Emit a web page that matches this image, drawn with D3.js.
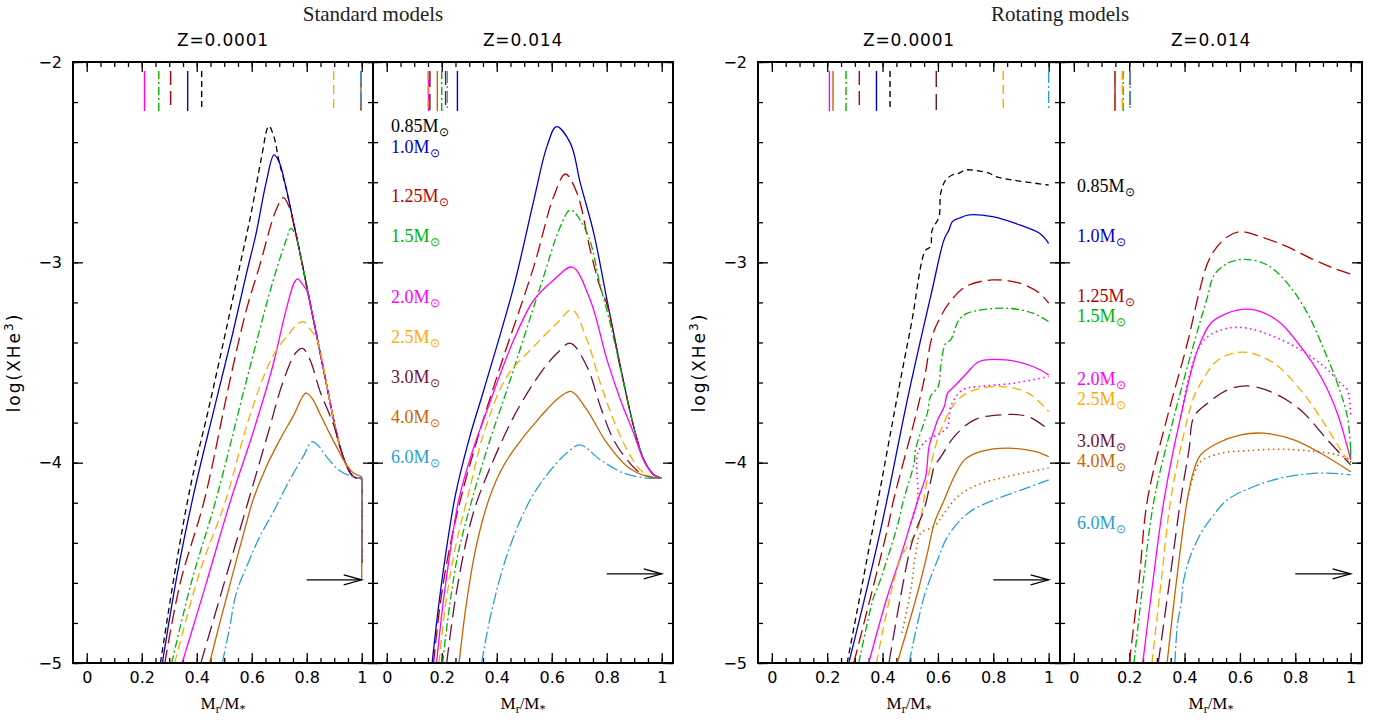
<!DOCTYPE html>
<html>
<head>
<meta charset="utf-8">
<script src="https://cdn.jsdelivr.net/npm/d3@7"></script>
<style>
  body { margin: 0; background: #fff; }
  svg { display: block; }
</style>
</head>
<body>
<script>
// masses and their line styles
const masses = ["0.85", "1.0", "1.25", "1.5", "2.0", "2.5", "3.0", "4.0", "6.0"];
const colors = ["#000000", "#0000c8", "#b40000", "#00b400", "#ff00ff", "#ffaa00", "#6e0f3c", "#c86400", "#2aa0d2"];
const dashes = ["6,4", null, "14,6", "8,3,2,3", null, "9,5", "16,7", null, "12,3,2,3"];

const xMajor = [0, 0.2, 0.4, 0.6, 0.8, 1];
const yMajor = [-2, -3, -4, -5];

// standard models, Z=0.0001  [Mr/M*, log XHe3]
const stdLowZ = [
  [[0.268,-5],[0.32,-4.55],[0.38,-4.1],[0.44,-3.75],[0.50,-3.38],[0.55,-3.06],[0.60,-2.74],[0.635,-2.48],[0.662,-2.32],[0.68,-2.37],[0.70,-2.50],[0.725,-2.63],[0.75,-2.79],[0.775,-2.95],[0.80,-3.12],[0.825,-3.29],[0.85,-3.46],[0.875,-3.63],[0.90,-3.80],[0.925,-3.94],[0.95,-4.03],[0.97,-4.07],[1.0,-4.08],[1.0,-4.5]],
  [[0.275,-5],[0.33,-4.55],[0.39,-4.15],[0.46,-3.75],[0.531,-3.354],[0.58,-3.06],[0.616,-2.855],[0.652,-2.605],[0.681,-2.464],[0.70,-2.50],[0.725,-2.63],[0.75,-2.79],[0.775,-2.95],[0.80,-3.12],[0.825,-3.29],[0.85,-3.46],[0.875,-3.63],[0.90,-3.80],[0.925,-3.94],[0.95,-4.03],[0.97,-4.07],[1.0,-4.08],[1.0,-4.5]],
  [[0.284,-5],[0.34,-4.6],[0.428,-4.185],[0.519,-3.60],[0.58,-3.24],[0.628,-3.02],[0.688,-2.74],[0.715,-2.677],[0.735,-2.72],[0.75,-2.79],[0.775,-2.95],[0.80,-3.12],[0.825,-3.29],[0.85,-3.46],[0.875,-3.63],[0.90,-3.80],[0.925,-3.94],[0.95,-4.03],[0.97,-4.07],[1.0,-4.08],[1.0,-4.5]],
  [[0.309,-5],[0.38,-4.6],[0.470,-4.185],[0.579,-3.60],[0.676,-3.10],[0.725,-2.89],[0.743,-2.83],[0.76,-2.87],[0.775,-2.95],[0.80,-3.12],[0.825,-3.29],[0.85,-3.46],[0.875,-3.63],[0.90,-3.80],[0.925,-3.94],[0.95,-4.03],[0.97,-4.07],[1.0,-4.08],[1.0,-4.5]],
  [[0.347,-5],[0.435,-4.6],[0.524,-4.185],[0.604,-3.853],[0.676,-3.52],[0.725,-3.237],[0.755,-3.10],[0.767,-3.083],[0.785,-3.11],[0.80,-3.14],[0.825,-3.29],[0.85,-3.46],[0.875,-3.63],[0.90,-3.80],[0.925,-3.94],[0.95,-4.03],[0.97,-4.07],[1.0,-4.08],[1.0,-4.5]],
  [[0.32,-5],[0.41,-4.55],[0.506,-4.185],[0.592,-3.77],[0.676,-3.47],[0.737,-3.354],[0.765,-3.31],[0.788,-3.296],[0.81,-3.33],[0.835,-3.38],[0.855,-3.48],[0.875,-3.63],[0.90,-3.80],[0.925,-3.94],[0.95,-4.03],[0.97,-4.07],[1.0,-4.08],[1.0,-4.5]],
  [[0.415,-5],[0.50,-4.6],[0.589,-4.185],[0.66,-3.85],[0.713,-3.60],[0.761,-3.45],[0.785,-3.43],[0.81,-3.48],[0.85,-3.65],[0.88,-3.75],[0.90,-3.82],[0.925,-3.94],[0.95,-4.03],[0.97,-4.07],[1.0,-4.08],[1.0,-4.5]],
  [[0.447,-5],[0.484,-4.80],[0.532,-4.55],[0.581,-4.30],[0.605,-4.185],[0.653,-4.02],[0.702,-3.886],[0.75,-3.77],[0.797,-3.653],[0.82,-3.68],[0.847,-3.753],[0.878,-3.84],[0.908,-3.92],[0.94,-4.0],[0.969,-4.05],[1.0,-4.07],[1.0,-4.58]],
  [[0.493,-5],[0.52,-4.82],[0.544,-4.65],[0.581,-4.52],[0.629,-4.37],[0.677,-4.25],[0.738,-4.086],[0.787,-3.97],[0.82,-3.895],[0.845,-3.92],[0.872,-3.97],[0.92,-4.04],[0.969,-4.07],[1.0,-4.075],[1.0,-4.48]]
];

// standard models, Z=0.014
const stdHighZ = [
  null,
  [[0.165,-5],[0.19,-4.7],[0.215,-4.45],[0.25,-4.16],[0.30,-3.88],[0.353,-3.637],[0.462,-3.12],[0.535,-2.689],[0.583,-2.42],[0.617,-2.323],[0.668,-2.406],[0.704,-2.605],[0.753,-2.855],[0.801,-3.188],[0.85,-3.52],[0.898,-3.82],[0.935,-3.986],[0.971,-4.06],[1.0,-4.077]],
  [[0.17,-5],[0.195,-4.7],[0.225,-4.45],[0.268,-4.185],[0.33,-3.88],[0.413,-3.52],[0.535,-3.02],[0.607,-2.672],[0.65,-2.559],[0.692,-2.655],[0.74,-2.938],[0.775,-3.12],[0.801,-3.21],[0.85,-3.53],[0.898,-3.82],[0.935,-3.986],[0.971,-4.06],[1.0,-4.077]],
  [[0.203,-5],[0.23,-4.7],[0.26,-4.45],[0.31,-4.185],[0.37,-3.91],[0.437,-3.637],[0.559,-3.12],[0.632,-2.82],[0.668,-2.739],[0.729,-2.855],[0.777,-3.12],[0.81,-3.29],[0.85,-3.53],[0.898,-3.82],[0.935,-3.986],[0.971,-4.06],[1.0,-4.077]],
  [[0.181,-5],[0.205,-4.7],[0.23,-4.45],[0.262,-4.185],[0.31,-3.95],[0.365,-3.737],[0.462,-3.387],[0.535,-3.188],[0.607,-3.088],[0.674,-3.024],[0.74,-3.188],[0.801,-3.487],[0.85,-3.687],[0.898,-3.853],[0.935,-3.99],[0.971,-4.06],[1.0,-4.077]],
  [[0.19,-5],[0.215,-4.7],[0.25,-4.42],[0.30,-4.14],[0.353,-3.853],[0.437,-3.57],[0.535,-3.42],[0.619,-3.304],[0.674,-3.237],[0.728,-3.387],[0.777,-3.604],[0.825,-3.787],[0.874,-3.936],[0.922,-4.036],[0.96,-4.07],[1.0,-4.077]],
  [[0.218,-5],[0.245,-4.72],[0.28,-4.45],[0.315,-4.25],[0.353,-4.102],[0.462,-3.77],[0.559,-3.553],[0.619,-3.454],[0.668,-3.404],[0.728,-3.52],[0.777,-3.72],[0.825,-3.886],[0.874,-3.986],[0.922,-4.052],[0.96,-4.072],[1.0,-4.077]],
  [[0.263,-5],[0.29,-4.7],[0.325,-4.42],[0.371,-4.185],[0.415,-4.04],[0.462,-3.936],[0.559,-3.77],[0.632,-3.67],[0.672,-3.645],[0.728,-3.737],[0.801,-3.903],[0.874,-4.019],[0.947,-4.069],[1.0,-4.077]],
  [[0.345,-5],[0.38,-4.75],[0.44,-4.45],[0.522,-4.185],[0.607,-4.019],[0.668,-3.936],[0.704,-3.911],[0.777,-3.986],[0.862,-4.052],[0.947,-4.077],[1.0,-4.077]]
];

// rotating models, Z=0.0001
const rotLowZ = [
  [[0.272,-5],[0.37,-4.29],[0.456,-3.65],[0.505,-3.30],[0.555,-2.94],[0.573,-2.922],[0.579,-2.84],[0.604,-2.772],[0.61,-2.655],[0.628,-2.589],[0.652,-2.564],[0.676,-2.555],[0.70,-2.539],[0.737,-2.542],[0.785,-2.555],[0.81,-2.572],[0.87,-2.589],[1.0,-2.614]],
  [[0.278,-5],[0.393,-4.335],[0.495,-3.65],[0.579,-3.138],[0.622,-2.888],[0.64,-2.838],[0.652,-2.797],[0.676,-2.78],[0.713,-2.763],[0.797,-2.772],[0.895,-2.813],[0.967,-2.855],[1.0,-2.905]],
  [[0.296,-5],[0.417,-4.335],[0.44,-4.185],[0.519,-3.77],[0.55,-3.587],[0.579,-3.371],[0.604,-3.287],[0.64,-3.204],[0.70,-3.121],[0.797,-3.088],[0.895,-3.104],[0.967,-3.154],[1.0,-3.204]],
  [[0.314,-5],[0.368,-4.67],[0.383,-4.62],[0.453,-4.318],[0.476,-4.185],[0.514,-4.003],[0.519,-3.936],[0.549,-3.803],[0.562,-3.753],[0.573,-3.67],[0.601,-3.62],[0.61,-3.52],[0.628,-3.404],[0.646,-3.387],[0.676,-3.287],[0.707,-3.254],[0.846,-3.229],[0.943,-3.254],[1.0,-3.296]],
  [[0.35,-5],[0.417,-4.669],[0.465,-4.469],[0.502,-4.302],[0.532,-4.168],[0.556,-4.07],[0.568,-3.92],[0.587,-3.836],[0.599,-3.786],[0.623,-3.72],[0.635,-3.653],[0.659,-3.62],[0.70,-3.56],[0.749,-3.495],[0.846,-3.487],[0.943,-3.52],[1.0,-3.562]],
  [[0.378,-5],[0.465,-4.48],[0.526,-4.335],[0.562,-4.086],[0.611,-3.836],[0.672,-3.686],[0.732,-3.637],[0.829,-3.62],[0.926,-3.653],[1.0,-3.745]],
  [[0.423,-5],[0.465,-4.669],[0.502,-4.419],[0.526,-4.318],[0.55,-4.235],[0.575,-4.086],[0.587,-4.019],[0.611,-3.97],[0.659,-3.87],[0.732,-3.786],[0.829,-3.761],[0.926,-3.77],[1.0,-3.836]],
  [[0.453,-5],[0.526,-4.652],[0.562,-4.452],[0.587,-4.302],[0.623,-4.185],[0.659,-4.069],[0.696,-3.986],[0.756,-3.944],[0.853,-3.927],[0.95,-3.944],[1.0,-3.97]],
  [[0.496,-5],[0.55,-4.669],[0.599,-4.485],[0.635,-4.369],[0.708,-4.252],[0.805,-4.185],[0.902,-4.136],[1.0,-4.086]]
];
const rotLowZDotMass = ["2.0", "4.0"];
const rotLowZDot = [
  [[0.502,-4.302],[0.526,-4.19],[0.528,-3.95],[0.562,-3.886],[0.60,-3.86],[0.635,-3.82],[0.646,-3.72],[0.688,-3.637],[0.749,-3.62],[0.87,-3.604],[1.0,-3.57]],
  [[0.47,-4.85],[0.502,-4.635],[0.52,-4.452],[0.538,-4.352],[0.587,-4.318],[0.623,-4.252],[0.672,-4.168],[0.744,-4.11],[0.853,-4.069],[1.0,-4.027]]
];

// rotating models, Z=0.014
const rotHighZ = [
  null,
  null,
  [[0.20,-5],[0.235,-4.6],[0.266,-4.185],[0.338,-3.77],[0.41,-3.404],[0.452,-3.154],[0.483,-3.005],[0.513,-2.93],[0.555,-2.872],[0.603,-2.847],[0.675,-2.872],[0.771,-2.922],[0.868,-2.988],[0.94,-3.03],[1.0,-3.058]],
  [[0.217,-5],[0.25,-4.6],[0.29,-4.185],[0.362,-3.77],[0.434,-3.404],[0.483,-3.171],[0.507,-3.063],[0.555,-3.005],[0.615,-2.985],[0.699,-3.013],[0.771,-3.104],[0.844,-3.254],[0.904,-3.437],[0.952,-3.604],[0.988,-3.77],[1.0,-3.936],[1.0,-4.0]],
  [[0.249,-5],[0.285,-4.6],[0.326,-4.185],[0.386,-3.77],[0.447,-3.437],[0.495,-3.304],[0.555,-3.254],[0.615,-3.234],[0.675,-3.246],[0.747,-3.304],[0.819,-3.42],[0.892,-3.57],[0.952,-3.753],[1.0,-3.986]],
  [[0.282,-5],[0.315,-4.6],[0.35,-4.185],[0.398,-3.853],[0.434,-3.67],[0.458,-3.604],[0.507,-3.504],[0.555,-3.462],[0.627,-3.45],[0.723,-3.504],[0.819,-3.637],[0.904,-3.803],[0.964,-3.936],[1.0,-4.011]],
  [[0.305,-5],[0.345,-4.6],[0.386,-4.185],[0.416,-3.936],[0.434,-3.77],[0.483,-3.704],[0.555,-3.637],[0.627,-3.617],[0.723,-3.653],[0.819,-3.737],[0.916,-3.886],[1.0,-4.011]],
  [[0.337,-5],[0.37,-4.6],[0.41,-4.185],[0.434,-4.036],[0.458,-3.961],[0.519,-3.903],[0.603,-3.861],[0.687,-3.853],[0.795,-3.886],[0.892,-3.953],[1.0,-4.045]],
  [[0.365,-5],[0.375,-4.8],[0.388,-4.7],[0.395,-4.6],[0.42,-4.47],[0.46,-4.35],[0.50,-4.27],[0.555,-4.185],[0.651,-4.119],[0.747,-4.077],[0.844,-4.056],[0.916,-4.052],[1.0,-4.061]]
];
const rotHighZDotMass = ["2.0", "4.0"];
const rotHighZDot = [
  [[0.386,-3.77],[0.42,-3.55],[0.447,-3.44],[0.483,-3.371],[0.555,-3.329],[0.627,-3.329],[0.723,-3.371],[0.819,-3.437],[0.904,-3.52],[0.964,-3.604],[0.988,-3.637],[1.0,-3.77]],
  [[0.41,-4.185],[0.434,-4.06],[0.458,-3.995],[0.531,-3.953],[0.627,-3.94],[0.747,-3.933],[0.868,-3.944],[0.952,-3.961],[1.0,-3.986]]
];

// top markers, Mr/M* per mass (null = none)
const markStdLowZ = [0.418, 0.367, 0.305, 0.262, 0.210, 0.898, 0.997, 0.997, 0.997];
const markStdHighZ = [null, 0.257, 0.214, 0.20, 0.152, 0.150, 0.157, 0.184, 0.22];
const markRotLowZ = [0.427, 0.378, 0.316, 0.268, 0.208, 0.836, 0.594, 0.221, 1.0];
const markRotHighZ = [null, null, 0.203, 0.178, 0.149, 0.175, 0.149, 0.149, 0.203];

// arrow levels per panel
const arrowX = [0.80, 1.0];
const arrowLevels = [-4.585, -4.555, -4.585, -4.555];

const W = 1383, H = 722;
const svg = d3.select("body").append("svg").attr("width", W).attr("height", H);

const y = d3.scaleLinear().domain([-2, -5]).range([62, 663]);
const yMinor = d3.range(-2, -5.001, -0.2);
const xMinor = d3.range(0, 1.001, 0.05);

const panels = [
  { left: 73, right: 373, title: "Z=0.0001", curves: stdLowZ, dotMass: [], dots: [], marks: markStdLowZ, yLabels: true, legend: null },
  { left: 373, right: 673, title: "Z=0.014", curves: stdHighZ, dotMass: [], dots: [], marks: markStdHighZ, yLabels: false,
    legend: { x: 391, ys: [-2.349, -2.454, -2.699, -2.898, -3.203, -3.402, -3.602, -3.801, -4.0] } },
  { left: 758, right: 1060, title: "Z=0.0001", curves: rotLowZ, dotMass: rotLowZDotMass, dots: rotLowZDot, marks: markRotLowZ, yLabels: true, legend: null },
  { left: 1060, right: 1362, title: "Z=0.014", curves: rotHighZ, dotMass: rotHighZDotMass, dots: rotHighZDot, marks: markRotHighZ, yLabels: false,
    legend: { x: 1077, ys: [-2.65, -2.90, -3.20, -3.30, -3.61, -3.71, -3.92, -4.02, -4.33] } }
];

// group titles
svg.append("text").attr("x", 373).attr("y", 21).attr("text-anchor", "middle")
  .attr("font-family", "Liberation Serif").attr("font-size", 21).attr("fill", "#222").text("Standard models");
svg.append("text").attr("x", 1060).attr("y", 21).attr("text-anchor", "middle")
  .attr("font-family", "Liberation Serif").attr("font-size", 21).attr("fill", "#222").text("Rotating models");

// y axis labels
[20, 705].forEach(lx => {
  const t = svg.append("text").attr("transform", `translate(${lx},${y(-3.5)}) rotate(-90)`)
    .attr("text-anchor", "middle").attr("font-family", "DejaVu Sans").attr("font-size", 17)
    .attr("letter-spacing", 2);
  t.append("tspan").text("log(XHe");
  t.append("tspan").attr("font-size", 12).attr("dy", -7).text("3");
  t.append("tspan").attr("dy", 7).text(")");
});

panels.forEach((p, pi) => {
  const x = d3.scaleLinear().domain([-0.05, 1.041]).range([p.left, p.right]);
  const g = svg.append("g");
  const clipId = "clip" + pi;
  svg.append("clipPath").attr("id", clipId).append("rect")
    .attr("x", p.left).attr("y", y(-2)).attr("width", p.right - p.left).attr("height", y(-5) - y(-2));

  const styleAxis = sel => {
    sel.select(".domain").remove();
    sel.selectAll(".tick line").attr("stroke", "#000").attr("stroke-width", 1.3);
    sel.attr("font-family", "DejaVu Sans").attr("font-size", 16).attr("fill", "#000");
  };

  // x ticks (bottom with labels, top without)
  g.append("g").attr("transform", `translate(0,${y(-5)})`)
    .call(d3.axisBottom(x).tickValues(xMajor).tickSize(-10).tickPadding(9).tickFormat(d3.format("~g"))).call(styleAxis);
  g.append("g").attr("transform", `translate(0,${y(-5)})`)
    .call(d3.axisBottom(x).tickValues(xMinor).tickSize(-5).tickFormat("")).call(styleAxis);
  g.append("g").attr("transform", `translate(0,${y(-2)})`)
    .call(d3.axisTop(x).tickValues(xMajor).tickSize(-10).tickFormat("")).call(styleAxis);
  g.append("g").attr("transform", `translate(0,${y(-2)})`)
    .call(d3.axisTop(x).tickValues(xMinor).tickSize(-5).tickFormat("")).call(styleAxis);

  // y ticks (left and right)
  g.append("g").attr("transform", `translate(${p.left},0)`)
    .call(d3.axisLeft(y).tickValues(yMajor).tickSize(-10).tickPadding(11)
      .tickFormat(p.yLabels ? d3.format("d") : "")).call(styleAxis);
  g.append("g").attr("transform", `translate(${p.left},0)`)
    .call(d3.axisLeft(y).tickValues(yMinor).tickSize(-5).tickFormat("")).call(styleAxis);
  g.append("g").attr("transform", `translate(${p.right},0)`)
    .call(d3.axisRight(y).tickValues(yMajor).tickSize(-10).tickFormat("")).call(styleAxis);
  g.append("g").attr("transform", `translate(${p.right},0)`)
    .call(d3.axisRight(y).tickValues(yMinor).tickSize(-5).tickFormat("")).call(styleAxis);
  g.selectAll(".tick text").attr("font-size", 16);

  // panel title
  svg.append("text").attr("x", (p.left + p.right) / 2).attr("y", 46).attr("text-anchor", "middle")
    .attr("font-family", "DejaVu Sans").attr("font-size", 17).attr("letter-spacing", 0.8).text(p.title);

  // x axis label
  const xl = svg.append("text").attr("x", (p.left + p.right) / 2).attr("y", 709).attr("text-anchor", "middle")
    .attr("font-family", "Liberation Serif").attr("font-size", 17);
  xl.append("tspan").text("M");
  xl.append("tspan").attr("font-size", 12).attr("dy", 4).text("r");
  xl.append("tspan").attr("dy", -4).text("/M");
  xl.append("tspan").attr("font-size", 12).attr("dy", 4).text("*");

  const line = d3.line().x(d => x(d[0])).y(d => y(d[1])).curve(d3.curveCatmullRom.alpha(0.5));
  const plot = svg.append("g").attr("clip-path", `url(#${clipId})`);

  // top markers
  p.marks.forEach((m, i) => {
    if (m === null) return;
    plot.append("line").attr("x1", x(m)).attr("x2", x(m)).attr("y1", y(-2.045)).attr("y2", y(-2.245))
      .attr("stroke", colors[i]).attr("stroke-width", 1.4).attr("stroke-dasharray", dashes[i]);
  });

  // curves; a final vertical drop is drawn straight
  const drawCurve = (c, color, dash, width) => {
    const n = c.length;
    const hasDrop = n > 2 && c[n - 1][0] === c[n - 2][0];
    const body = hasDrop ? c.slice(0, n - 1) : c;
    plot.append("path").attr("d", line(body)).attr("fill", "none")
      .attr("stroke", color).attr("stroke-width", width).attr("stroke-dasharray", dash);
    if (hasDrop) {
      plot.append("path").attr("d", d3.line().x(d => x(d[0])).y(d => y(d[1]))(c.slice(n - 2)))
        .attr("fill", "none").attr("stroke", color).attr("stroke-width", width).attr("stroke-dasharray", dash);
    }
  };
  p.curves.forEach((c, i) => {
    if (!c) return;
    drawCurve(c, colors[i], dashes[i], 1.3);
  });
  p.dots.forEach((c, k) => {
    const i = masses.indexOf(p.dotMass[k]);
    drawCurve(c, colors[i], "1.5,3.5", 1.6);
  });

  // arrow
  const ay = y(arrowLevels[pi]), ax0 = x(arrowX[0]), ax1 = x(arrowX[1]);
  svg.append("line").attr("x1", ax0).attr("x2", ax1).attr("y1", ay).attr("y2", ay)
    .attr("stroke", "#000").attr("stroke-width", 1.3);
  svg.append("polyline").attr("points", `${ax1 - 18},${ay - 5} ${ax1},${ay} ${ax1 - 18},${ay + 5}`)
    .attr("fill", "none").attr("stroke", "#000").attr("stroke-width", 1.3);

  // legend
  if (p.legend) {
    masses.forEach((m, i) => {
      const t = svg.append("text").attr("x", p.legend.x).attr("y", y(p.legend.ys[i]))
        .attr("font-family", "Liberation Serif").attr("font-size", 18).attr("fill", colors[i]);
      t.append("tspan").text(m + "M");
      t.append("tspan").attr("font-size", 12).attr("dy", 4).text("\u2299");
    });
  }

  // frame
  svg.append("rect").attr("x", p.left).attr("y", y(-2)).attr("width", p.right - p.left).attr("height", y(-5) - y(-2))
    .attr("fill", "none").attr("stroke", "#000").attr("stroke-width", 2);
});
</script>
</body>
</html>
